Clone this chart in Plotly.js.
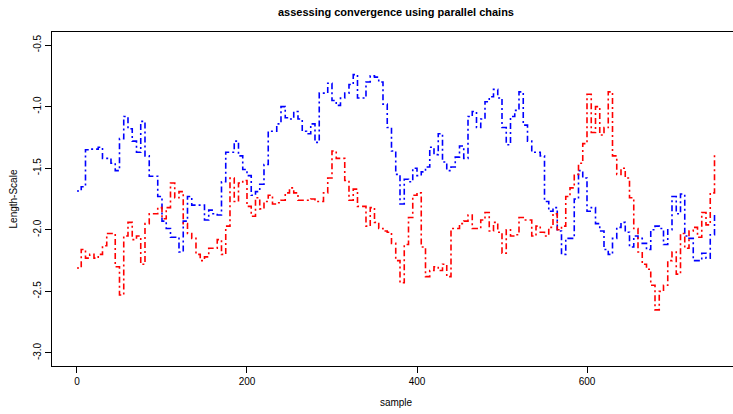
<!DOCTYPE html>
<html>
<head>
<meta charset="utf-8">
<script src="https://cdn.plot.ly/plotly-3.0.1.min.js"></script>
<style>
  html, body { margin: 0; padding: 0; overflow: hidden; background: #ffffff; }
  #chart { width: 745px; height: 414px; }
</style>
</head>
<body>
<div id="chart"></div>
<script>
// MCMC trace of the length-scale parameter, two parallel chains,
// recorded every 5th sample (0 .. 750).
const samples = Array.from({ length: 151 }, (_, i) => i * 5);

const chainBlue = [
  -1.685, -1.65, -1.35, -1.345, -1.345, -1.33, -1.42, -1.42, -1.46, -1.52,
  -1.26, -1.08, -1.18, -1.28, -1.37, -1.12, -1.40, -1.565, -1.565, -1.73,
  -1.93, -1.99, -2.06, -2.06, -2.18, -1.93, -1.73, -1.80, -1.80, -1.80,
  -1.92, -1.84, -1.87, -1.88, -1.61, -1.37, -1.37, -1.28, -1.40, -1.51,
  -1.56, -1.72, -1.69, -1.63, -1.47, -1.20, -1.20, -1.14, -1.00, -1.09,
  -1.10, -1.04, -1.10, -1.20, -1.22, -1.14, -1.29, -0.89, -0.89, -0.81,
  -0.95, -0.99, -0.93, -0.89, -0.82, -0.74, -0.93, -0.93, -0.80, -0.75,
  -0.76, -0.80, -0.98, -1.17, -1.36, -1.55, -1.79, -1.59, -1.61, -1.50,
  -1.56, -1.53, -1.49, -1.33, -1.39, -1.22, -1.45, -1.52, -1.49, -1.41,
  -1.32, -1.42, -1.08, -1.04, -1.17, -1.10, -0.96, -0.92, -0.86, -0.93,
  -1.17, -1.31, -1.08, -1.03, -0.88, -1.15, -1.28, -1.37, -1.37, -1.40,
  -1.77, -1.85, -1.82, -2.01, -2.20, -2.07, -2.07, -1.75, -1.52, -1.58,
  -1.85, -1.82, -1.95, -2.01, -2.16, -2.20, -2.07, -1.98, -1.94, -2.02,
  -2.14, -2.05, -2.07, -2.11, -2.16, -2.00, -1.97, -1.99, -2.12, -2.00,
  -1.73, -1.87, -1.71, -2.05, -2.07, -2.25, -2.25, -2.19, -2.23, -2.04,
  -1.86
];

const chainRed = [
  -2.31, -2.16, -2.23, -2.20, -2.23, -2.20, -2.13, -2.03, -2.03, -2.30,
  -2.53, -2.05, -1.94, -2.08, -2.05, -2.28, -1.95, -1.87, -1.87, -1.82,
  -1.91, -1.82, -1.62, -1.74, -1.69, -1.95, -2.03, -2.07, -2.20, -2.25,
  -2.22, -2.15, -2.15, -2.08, -2.20, -1.97, -1.58, -1.77, -1.62, -1.60,
  -1.81, -1.89, -1.74, -1.83, -1.77, -1.72, -1.79, -1.78, -1.76, -1.70,
  -1.66, -1.70, -1.76, -1.76, -1.76, -1.75, -1.77, -1.77, -1.70, -1.58,
  -1.36, -1.42, -1.42, -1.60, -1.76, -1.67, -1.81, -1.81, -1.97, -1.82,
  -1.94, -1.99, -2.01, -2.02, -2.11, -2.25, -2.43, -2.12, -1.90, -1.72,
  -1.70, -2.14, -2.38, -2.33, -2.30, -2.33, -2.28, -2.38, -1.99, -1.99,
  -1.95, -1.93, -1.88, -1.99, -1.99, -1.92, -1.86, -2.01, -1.94, -2.02,
  -2.19, -2.00, -2.05, -2.04, -1.90, -1.92, -1.92, -2.05, -1.97, -2.02,
  -2.05, -1.98, -1.87, -2.00, -1.97, -1.73, -1.66, -1.55, -1.46, -1.30,
  -0.90, -1.21, -1.00, -1.23, -1.17, -0.88, -1.40, -1.55, -1.50, -1.58,
  -1.74, -1.99, -2.18, -2.28, -2.32, -2.45, -2.65, -2.50, -2.45, -2.25,
  -2.18, -2.36, -2.03, -2.15, -2.01, -1.98, -2.06, -1.86, -1.96, -1.70,
  -1.37
];

const xTicks = [0, 200, 400, 600];
const yTicks = [-3.0, -2.5, -2.0, -1.5, -1.0, -0.5];
const yTickText = ['-3.0', '-2.5', '-2.0', '-1.5', '-1.0', '-0.5'];

// dot-dash pattern, chain values held between recorded samples
const lineDash = '2px,3px,6px,3px';

const traces = [
  {
    x: samples, y: chainBlue, type: 'scatter', mode: 'lines',
    line: { color: '#0000ff', width: 1.6, dash: lineDash, shape: 'hv' },
    hoverinfo: 'x+y'
  },
  {
    x: samples, y: chainRed, type: 'scatter', mode: 'lines',
    line: { color: '#ff0000', width: 1.6, dash: lineDash, shape: 'hv' },
    hoverinfo: 'x+y'
  }
];

const baseFont = { family: 'Liberation Sans, Arial, sans-serif', size: 10, color: '#000000' };

const layout = {
  width: 745,
  height: 414,
  margin: { l: 52, r: 5, t: 32, b: 48 },
  paper_bgcolor: '#ffffff',
  plot_bgcolor: '#ffffff',
  showlegend: false,
  font: baseFont,
  title: {
    text: '<b>assessing convergence using parallel chains</b>',
    font: { family: 'Liberation Sans, Arial, sans-serif', size: 11, color: '#000000' },
    x: 0.5, xref: 'paper', xanchor: 'center',
    y: 1 - 12 / 414, yref: 'container', yanchor: 'middle'
  },
  xaxis: {
    range: [-29.4, 780],
    tickvals: xTicks,
    ticktext: xTicks.map(String),
    ticks: 'outside', ticklen: 6, tickwidth: 1, tickcolor: '#000000',
    showline: true, linecolor: '#000000', linewidth: 1, mirror: true,
    showgrid: false, zeroline: false,
    tickfont: baseFont,
    title: { text: 'sample', font: baseFont, standoff: 12 }
  },
  yaxis: {
    range: [-3.106, -0.394],
    tickvals: yTicks,
    ticktext: yTickText,
    tickangle: -90,
    ticks: 'outside', ticklen: 6, tickwidth: 1, tickcolor: '#000000',
    showline: true, linecolor: '#000000', linewidth: 1, mirror: true,
    showgrid: false, zeroline: false,
    tickfont: baseFont,
    title: { text: 'Length-Scale', font: baseFont, standoff: 12 }
  }
};

Plotly.newPlot('chart', traces, layout, { displayModeBar: false, staticPlot: true });
</script>
</body>
</html>
